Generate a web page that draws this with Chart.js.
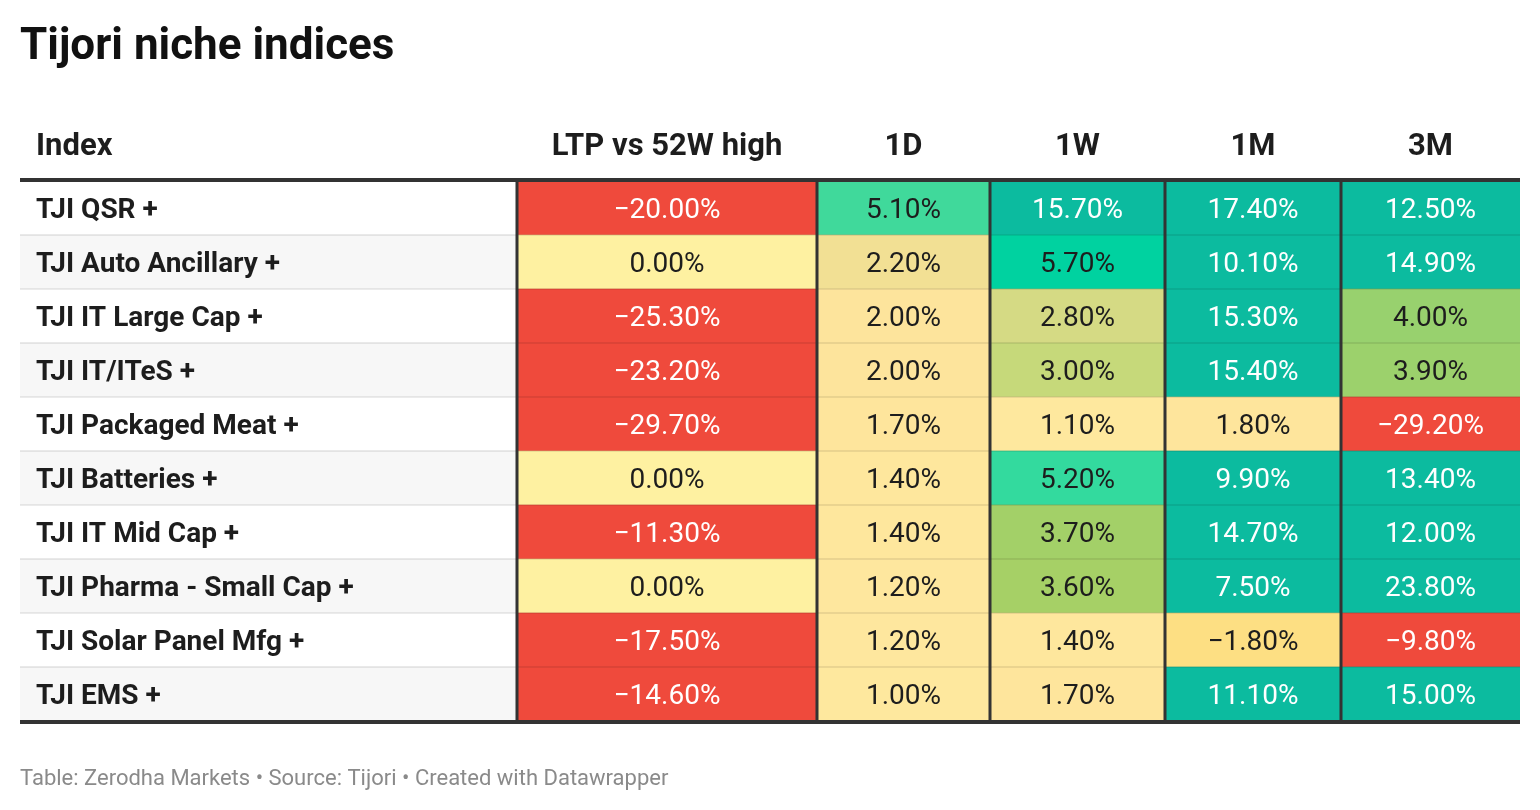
<!DOCTYPE html>
<html>
<head>
<meta charset="utf-8">
<title>Tijori niche indices</title>
<script src="https://cdn.jsdelivr.net/npm/chart.js@4.4.1/dist/chart.umd.min.js"></script>
<style>
  html, body { margin: 0; padding: 0; background: #fff; }
  #wrap { width: 1540px; height: 810px; position: relative; }
</style>
</head>
<body>
<div id="wrap"><canvas id="nicheTable"></canvas></div>
<script>
const indexNames = [
    'TJI QSR +',
    'TJI Auto Ancillary +',
    'TJI IT Large Cap +',
    'TJI IT/ITeS +',
    'TJI Packaged Meat +',
    'TJI Batteries +',
    'TJI IT Mid Cap +',
    'TJI Pharma - Small Cap +',
    'TJI Solar Panel Mfg +',
    'TJI EMS +'
];
const columnLabels = ['Index', 'LTP vs 52W high', '1D', '1W', '1M', '3M'];

// % values per column, same order as indexNames
const ltpVs52wHigh = [-20.0, 0.0, -25.3, -23.2, -29.7, 0.0, -11.3, 0.0, -17.5, -14.6];
const change1D = [5.1, 2.2, 2.0, 2.0, 1.7, 1.4, 1.4, 1.2, 1.2, 1.0];
const change1W = [15.7, 5.7, 2.8, 3.0, 1.1, 5.2, 3.7, 3.6, 1.4, 1.7];
const change1M = [17.4, 10.1, 15.3, 15.4, 1.8, 9.9, 14.7, 7.5, -1.8, 11.1];
const change3M = [12.5, 14.9, 4.0, 3.9, -29.2, 13.4, 12.0, 23.8, -9.8, 15.0];

const valueColumns = [ltpVs52wHigh, change1D, change1W, change1M, change3M];

// column edges in table units (x scale), index column first
const columnEdges = [0, 497, 797, 970, 1145, 1321, 1500];

const FONT = 'Roboto, "Noto Sans", sans-serif';
const DARK_LINE = '#333333';
const TEXT_DARK = '#1d1d1d';

// heat scale for the value cells: [value, colour]
const colorStops = [
    [-30, '#ef4a3c'],
    [-5, '#ef4a3c'],
    [-1.8, '#fddf83'],
    [0, '#fef1a1'],
    [1.0, '#fee89e'],
    [1.8, '#fee59c'],
    [2.0, '#fde49c'],
    [2.2, '#f2e094'],
    [2.8, '#d5da84'],
    [3.0, '#c6d97a'],
    [3.6, '#a6d066'],
    [4.0, '#98d16e'],
    [5.1, '#40d99b'],
    [5.2, '#33da9e'],
    [5.7, '#00d2a0'],
    [7.5, '#0cbb9f'],
    [30, '#0cbb9f']
];

function hexToRgb(hex) {
    const n = parseInt(hex.slice(1), 16);
    return [(n >> 16) & 255, (n >> 8) & 255, n & 255];
}

function cellColor(v) {
    if (v <= colorStops[0][0]) return colorStops[0][1];
    for (let i = 1; i < colorStops.length; i++) {
        if (v <= colorStops[i][0]) {
            const [v0, c0] = colorStops[i - 1];
            const [v1, c1] = colorStops[i];
            const t = (v - v0) / (v1 - v0);
            const a = hexToRgb(c0);
            const b = hexToRgb(c1);
            const mix = a.map((ch, k) => Math.round(ch + (b[k] - ch) * t));
            return `rgb(${mix[0]}, ${mix[1]}, ${mix[2]})`;
        }
    }
    return colorStops[colorStops.length - 1][1];
}

function textColor(v) {
    return (v <= -5 || v >= 7) ? '#ffffff' : TEXT_DARK;
}

function formatPct(v) {
    return v.toFixed(2).replace('-', '\u2212') + '%';
}

// one floating bar per cell, one dataset per column
const datasets = [{
    label: columnLabels[0],
    data: indexNames.map(() => [columnEdges[0], columnEdges[1]]),
    backgroundColor: indexNames.map((n, i) => i % 2 ? '#f7f7f7' : '#ffffff')
}];
valueColumns.forEach((col, c) => {
    datasets.push({
        label: columnLabels[c + 1],
        data: col.map(() => [columnEdges[c + 1], columnEdges[c + 2]]),
        backgroundColor: col.map(cellColor)
    });
});

const tablePlugin = {
    id: 'tableText',
    afterDatasetsDraw(chart) {
        const ctx = chart.ctx;
        ctx.save();
        ctx.font = '400 28px ' + FONT;
        ctx.textAlign = 'center';
        ctx.textBaseline = 'middle';
        valueColumns.forEach((col, c) => {
            const meta = chart.getDatasetMeta(c + 1);
            meta.data.forEach((bar, i) => {
                const { x, y, base } = bar.getProps(['x', 'y', 'base'], true);
                ctx.fillStyle = textColor(col[i]);
                ctx.fillText(formatPct(col[i]), (x + base) / 2, y + 3);
            });
        });
        ctx.restore();
    },
    afterDraw(chart) {
        const { ctx, chartArea } = chart;
        const x = chart.scales.x;
        ctx.save();

        // header row
        ctx.font = '700 31px ' + FONT;
        ctx.fillStyle = TEXT_DARK;
        ctx.textBaseline = 'middle';
        const headerY = chartArea.top - 34;
        columnLabels.forEach((label, c) => {
            if (c === 0) {
                ctx.textAlign = 'left';
                ctx.fillText(label, x.getPixelForValue(columnEdges[0]) + 16, headerY);
            } else {
                ctx.textAlign = 'center';
                ctx.fillText(label, x.getPixelForValue((columnEdges[c] + columnEdges[c + 1]) / 2), headerY);
            }
        });

        // dark dividers between the value columns
        ctx.strokeStyle = DARK_LINE;
        ctx.lineWidth = 3;
        for (let c = 1; c < columnEdges.length - 1; c++) {
            const px = x.getPixelForValue(columnEdges[c]);
            ctx.beginPath();
            ctx.moveTo(px, chartArea.top);
            ctx.lineTo(px, chartArea.bottom);
            ctx.stroke();
        }

        // heavy rules above and below the body
        ctx.lineWidth = 4;
        [chartArea.top - 1, chartArea.bottom + 1].forEach(py => {
            ctx.beginPath();
            ctx.moveTo(chartArea.left, py);
            ctx.lineTo(chartArea.right, py);
            ctx.stroke();
        });
        ctx.restore();
    }
};

new Chart(document.getElementById('nicheTable'), {
    type: 'bar',
    data: {
        labels: indexNames,
        datasets: datasets
    },
    options: {
        indexAxis: 'y',
        responsive: true,
        maintainAspectRatio: false,
        animation: false,
        events: [],
        datasets: {
            bar: {
                grouped: false,
                barPercentage: 1,
                categoryPercentage: 1,
                borderWidth: 0,
                borderSkipped: false
            }
        },
        layout: {
            padding: { left: 20, right: 20, top: 0, bottom: 0 }
        },
        scales: {
            x: {
                type: 'linear',
                min: columnEdges[0],
                max: columnEdges[columnEdges.length - 1],
                display: false
            },
            y: {
                type: 'category',
                offset: true,
                border: { display: false },
                grid: {
                    offset: true,
                    color: 'rgba(0, 0, 0, 0.08)',
                    lineWidth: 2,
                    drawTicks: false,
                    z: 1
                },
                ticks: {
                    mirror: true,
                    padding: 16,
                    labelOffset: 3,
                    color: TEXT_DARK,
                    font: { family: FONT, size: 28, weight: '700' },
                    z: 1
                },
                afterFit(scale) {
                    scale.width = 0;
                }
            }
        },
        plugins: {
            legend: { display: false },
            tooltip: { enabled: false },
            title: {
                display: true,
                text: 'Tijori niche indices',
                align: 'start',
                color: '#111111',
                font: { family: FONT, size: 44, weight: '700', lineHeight: 1.2 },
                padding: { top: 22, bottom: 106.2 }
            },
            subtitle: {
                display: true,
                position: 'bottom',
                text: 'Table: Zerodha Markets \u2022 Source: Tijori \u2022 Created with Datawrapper',
                align: 'start',
                color: '#8a8a8a',
                font: { family: FONT, size: 22, weight: '400', lineHeight: 1.2 },
                padding: { top: 44.8, bottom: 17.8 }
            }
        }
    },
    plugins: [tablePlugin]
});
</script>
</body>
</html>
